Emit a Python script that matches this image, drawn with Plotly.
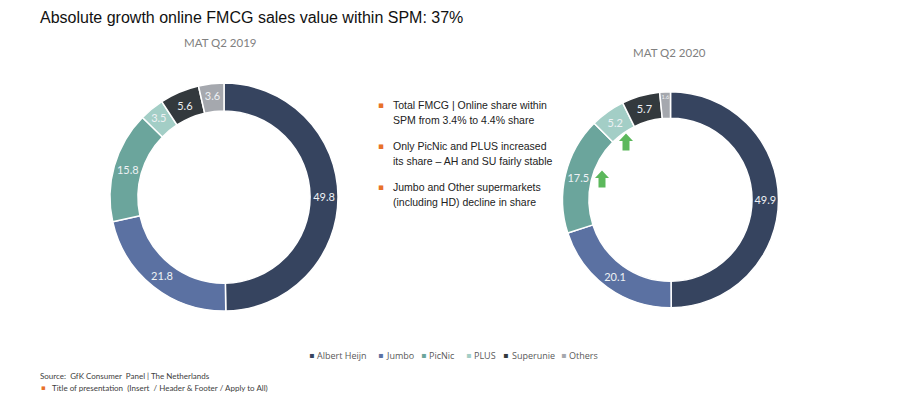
import plotly.graph_objects as go

W, H = 906, 398

retailers = ["Albert Heijn", "Jumbo", "PicNic", "PLUS", "Superunie", "Others"]
share_2019 = [49.8, 21.8, 15.8, 3.5, 5.6, 3.6]
share_2020 = [49.9, 20.1, 17.5, 5.2, 5.7, 1.6]
colors = ["#36445F", "#5B71A2", "#6BA59C", "#A3CEC6", "#33393D", "#A5A8AE"]

title_text = "Absolute growth online FMCG sales value within SPM: 37%"
period_labels = ["MAT Q2 2019", "MAT Q2 2020"]
bullets = [
    ["Total FMCG | Online share within", "SPM from 3.4% to 4.4% share"],
    ["Only PicNic and PLUS increased", "its share \u2013 AH and SU fairly stable"],
    ["Jumbo and Other supermarkets", "(including HD) decline in share"],
]
source_text = "Source:  GfK Consumer  Panel | The Netherlands"
footer_text = "Title of presentation  (Insert  / Header & Footer / Apply to All)"

# legend item left edges (layout, pixels)
legend_x = [311, 380, 423, 468, 506, 563]


def px(x):
    return x / W


def py(y):
    return 1 - y / H


fig = go.Figure()

for vals, dom in [
    (share_2019, (110, 338, 82.7, 311.5)),
    (share_2020, (562.5, 778.5, 91.7, 307.7)),
]:
    fig.add_trace(go.Pie(
        labels=retailers, values=vals, hole=0.755, sort=False,
        direction="clockwise", rotation=0,
        marker=dict(colors=colors, line=dict(color="white", width=1.5)),
        texttemplate="%{value:.1f}", textinfo="text",
        textposition="inside", insidetextorientation="horizontal",
        textfont=dict(family="Lato", size=11, color="#EEF1F4"),
        domain=dict(x=[px(dom[0]), px(dom[1])], y=[py(dom[3]), py(dom[2])]),
        showlegend=False, hoverinfo="skip",
    ))

ann = []
ann.append(dict(text=title_text, x=px(38), y=py(17), xanchor="left", yanchor="middle",
                font=dict(family="Liberation Sans", size=16, color="#111111")))
ann.append(dict(text=period_labels[0], x=px(220), y=py(43), xanchor="center", yanchor="middle",
                font=dict(family="Lato", size=11.5, color="#808080")))
ann.append(dict(text=period_labels[1], x=px(669), y=py(52), xanchor="center", yanchor="middle",
                font=dict(family="Lato", size=11.5, color="#808080")))

bullet_y = [105, 146, 187]
for lines, y0 in zip(bullets, bullet_y):
    ann.append(dict(text="\u25aa", x=px(381), y=py(y0), xanchor="center", yanchor="middle",
                    font=dict(family="DejaVu Sans", size=9, color="#E8712A")))
    for i, line in enumerate(lines):
        ann.append(dict(text=line, x=px(391), y=py(y0 + 15 * i), xanchor="left", yanchor="middle",
                        font=dict(family="Liberation Sans", size=10.5, color="#222222")))

ann.append(dict(text=source_text, x=px(38), y=py(376), xanchor="left", yanchor="middle",
                font=dict(family="Lato", size=8, color="#404040")))
ann.append(dict(text="\u25aa", x=px(43), y=py(388), xanchor="center", yanchor="middle",
                font=dict(family="DejaVu Sans", size=7, color="#E8712A")))
ann.append(dict(text=footer_text, x=px(50), y=py(388), xanchor="left", yanchor="middle",
                font=dict(family="Lato", size=8, color="#404040")))

# legend drawn as text items
for name, col, lx in zip(retailers, colors, legend_x):
    ann.append(dict(text="\u25aa", x=px(lx), y=py(355), xanchor="center", yanchor="middle",
                    font=dict(family="DejaVu Sans", size=8, color=col)))
    ann.append(dict(text=name, x=px(lx + 4), y=py(355), xanchor="left", yanchor="middle",
                    font=dict(family="Open Sans", size=9, color="#595959")))

for a in ann:
    a.update(xref="paper", yref="paper", showarrow=False)

# green up-arrows marking share gains
shapes = []
for cx, cy in [(626, 142), (602, 179)]:
    w, hh = 7, 8.5
    pts = [(cx, cy - hh), (cx + w, cy - 1), (cx + 3.5, cy - 1), (cx + 3.5, cy + hh),
           (cx - 3.5, cy + hh), (cx - 3.5, cy - 1), (cx - w, cy - 1)]
    path = "M " + " L ".join(f"{px(x):.5f},{py(y):.5f}" for x, y in pts) + " Z"
    shapes.append(dict(type="path", path=path, xref="paper", yref="paper",
                       fillcolor="#5CB85C", line=dict(width=0)))

fig.update_layout(
    width=W, height=H, margin=dict(l=0, r=0, t=0, b=0),
    paper_bgcolor="white", plot_bgcolor="white",
    annotations=ann, shapes=shapes, showlegend=False,
)

fig.write_html("out.html", config={"displayModeBar": False},
               post_script="document.body.style.margin='0';document.body.style.overflow='hidden';")
